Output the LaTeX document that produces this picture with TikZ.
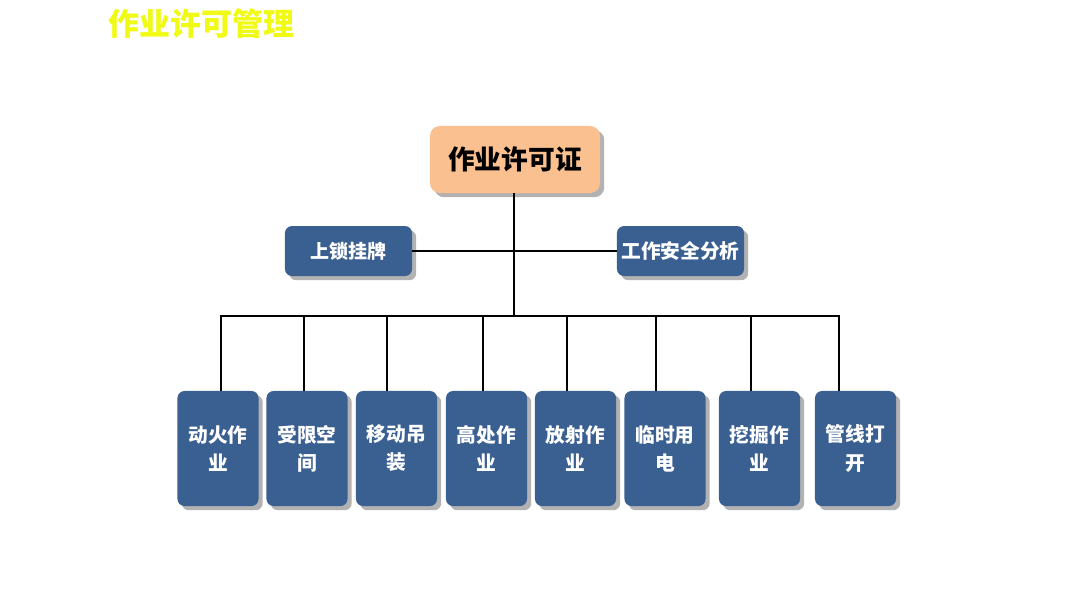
\documentclass[tikz,border=0pt]{standalone}
\usepackage{fontspec}
\setmainfont{Noto Sans CJK SC}
\usetikzlibrary{shadows}
\definecolor{boxblue}{RGB}{58,95,145}
\definecolor{boxpeach}{RGB}{250,192,144}
\definecolor{titleyellow}{RGB}{240,250,20}
\tikzset{
  permit/.style={draw=none, fill=boxblue, rounded corners=5pt, text=white, font=\bfseries,
    align=center, inner sep=1pt, drop shadow={shadow xshift=3pt, shadow yshift=-3pt, fill=black!30, opacity=1}},
  link/.style={line width=2pt, black}
}
\begin{document}
\begin{tikzpicture}[x=0.025cm, y=-0.025cm]
\useasboundingbox (0,0) rectangle (1080,608);

% Title
\node[anchor=west, text=titleyellow, font=\fontsize{22}{24}\selectfont\bfseries] (title) at (104,24) {作业许可管理};

% Main box and side boxes
\node[permit, fill=boxpeach, text=black, rounded corners=7pt, minimum width=4.25cm, minimum height=1.675cm,
  font=\fontsize{19}{22}\selectfont\bfseries] (permit) at (515,159.5) {作业许可证};
\node[permit, minimum width=3.175cm, minimum height=1.25cm, font=\fontsize{13.5}{16}\selectfont\bfseries] (loto) at (348.5,251) {上锁挂牌};
\node[permit, minimum width=3.175cm, minimum height=1.25cm, font=\fontsize{14}{16}\selectfont\bfseries] (jsa) at (680.5,251) {工作安全分析};

% Work types
\foreach \name/\x/\lx/\txt in {fire/218/221/{动火作\\业}, space/307/304/{受限空\\间}, lift/396.5/387/{移动吊\\装}, height/486.5/483/{高处作\\业},
  ray/575.5/567/{放射作\\业}, power/665/656/{临时用\\电}, dig/759.5/751/{挖掘作\\业}, pipe/855.5/839/{管线打\\开}} {
  \node[permit, minimum width=2.025cm, minimum height=2.875cm, font=\fontsize{14}{20}\selectfont\bfseries] (\name) at (\x,448.5) {\txt};
  \coordinate (bar-\name) at (\lx,316);
  \draw[link] (bar-\name) -- (bar-\name |- \name.north);
}

% Connectors
\coordinate (bar-mid) at (514,316);
\draw[link] (permit.south -| bar-mid) -- (bar-mid);
\draw[link] (loto.east) -- (jsa.west);
\draw[link, line cap=rect] (bar-fire) -- (bar-pipe);
\end{tikzpicture}
\end{document}
